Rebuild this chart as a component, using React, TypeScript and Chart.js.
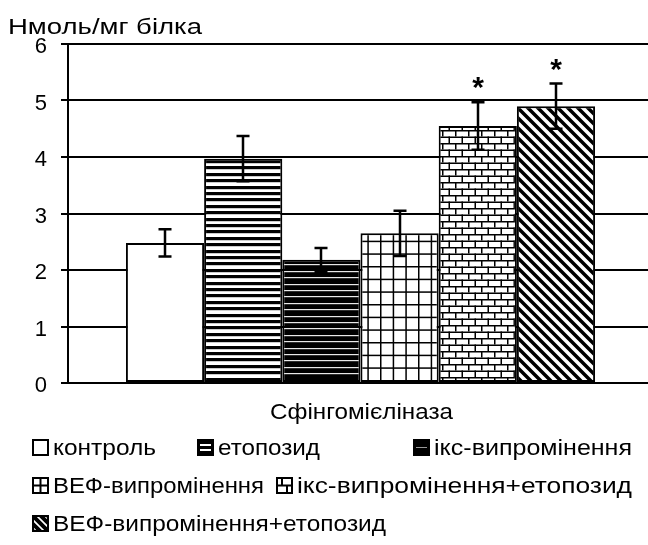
import React, { useEffect, useLayoutEffect, useRef } from 'react';
import { Chart, registerables } from 'chart.js';

Chart.register(...registerables);

// ---------- data ----------
const categories = ['Сфінгомієліназа'];
const seriesNames = [
  'контроль',
  'етопозид',
  'ікс-випромінення',
  'ВЕФ-випромінення',
  'ікс-випромінення+етопозид',
  'ВЕФ-випромінення+етопозид',
];
const meanValues = [2.48, 3.97, 2.18, 2.65, 4.55, 4.9];
const errorValues = [0.24, 0.4, 0.21, 0.4, 0.42, 0.4];
const significant = [false, false, false, false, true, true];
const yTickValues = [0, 1, 2, 3, 4, 5, 6];
const yAxisTitle = 'Нмоль/мг білка';
const xAxisTitle = 'Сфінгомієліназа';
const seriesPatterns = ['white', 'hlines', 'dark', 'grid', 'brick', 'diag'];

// ---------- layout ----------
const FONT = '"Liberation Sans", Arial, sans-serif';
const TXT = 22;
const W = 648;
const H = 545;
const CANVAS_W = 653; // plot area runs slightly past the visible edge
const legendRows = [456, 494, 532];
const legendLayout = [
  { x: 32, row: 0, textRight: 156 },
  { x: 197, row: 0, textRight: 320 },
  { x: 413, row: 0, textRight: 632 },
  { x: 32, row: 1, textRight: 264 },
  { x: 276, row: 1, textRight: 632 },
  { x: 32, row: 2, textRight: 386 },
];
const SW = 17;

function makeTile(w: number, h: number, draw: (c: CanvasRenderingContext2D) => void) {
  const cv = document.createElement('canvas');
  cv.width = w;
  cv.height = h;
  const c = cv.getContext('2d')!;
  draw(c);
  return cv;
}

function makePattern(ctx: CanvasRenderingContext2D, kind: string): CanvasPattern | string {
  let tile: HTMLCanvasElement | null = null;
  if (kind === 'white') return '#ffffff';
  if (kind === 'hlines') {
    tile = makeTile(4, 32, (c) => {
      c.fillStyle = '#fff';
      c.fillRect(0, 0, 4, 32);
      c.fillStyle = '#000';
      [0, 6, 13, 19, 26].forEach((y) => c.fillRect(0, y, 4, 3.2));
    });
  } else if (kind === 'dark') {
    tile = makeTile(4, 32, (c) => {
      c.fillStyle = '#000';
      c.fillRect(0, 0, 4, 32);
      c.fillStyle = '#e8e8e8';
      [2, 8, 15, 21, 28].forEach((y) => c.fillRect(0, y, 4, 1.2));
    });
  } else if (kind === 'grid') {
    tile = makeTile(38, 38, (c) => {
      c.fillStyle = '#fff';
      c.fillRect(0, 0, 38, 38);
      c.fillStyle = '#000';
      [0, 12.67, 25.33].forEach((p) => {
        c.fillRect(p, 0, 1.5, 38);
        c.fillRect(0, p, 38, 1.5);
      });
    });
  } else if (kind === 'brick') {
    tile = makeTile(26, 13, (c) => {
      c.fillStyle = '#fff';
      c.fillRect(0, 0, 26, 13);
      c.fillStyle = '#000';
      c.fillRect(0, 0, 26, 1.5);
      c.fillRect(0, 6.5, 26, 1.5);
      c.fillRect(0, 0, 1.5, 6.5);
      c.fillRect(13, 0, 1.5, 6.5);
      c.fillRect(6.5, 6.5, 1.5, 6.5);
      c.fillRect(19.5, 6.5, 1.5, 6.5);
    });
  } else if (kind === 'diag') {
    tile = makeTile(10, 10, (c) => {
      c.fillStyle = '#fff';
      c.fillRect(0, 0, 10, 10);
      c.strokeStyle = '#000';
      c.lineWidth = 3.5;
      c.beginPath();
      c.moveTo(-2, -2); c.lineTo(12, 12);
      c.moveTo(-2, 8); c.lineTo(2, 12);
      c.moveTo(8, -2); c.lineTo(12, 2);
      c.stroke();
    });
  }
  return tile ? ctx.createPattern(tile, 'repeat')! : '#fff';
}

function drawSwatch(c: CanvasRenderingContext2D, kind: string) {
  const s = SW;
  c.clearRect(0, 0, s, s);
  const bg = kind === 'hlines' || kind === 'dark' ? '#000' : '#fff';
  c.fillStyle = bg;
  c.fillRect(0, 0, s, s);
  c.fillStyle = '#000';
  if (kind === 'hlines') {
    c.fillStyle = '#fff';
    c.fillRect(3, 5, s - 6, 2);
    c.fillRect(3, 10, s - 6, 2);
  } else if (kind === 'dark') {
    c.fillStyle = '#9a9a9a';
    c.fillRect(3, 8, s - 6, 1);
  } else if (kind === 'grid') {
    c.fillRect(7.5, 0, 2, s);
    c.fillRect(0, 7.5, s, 2);
  } else if (kind === 'brick') {
    c.fillRect(0, 7.5, s, 2);
    c.fillRect(5, 0, 2, 8);
    c.fillRect(10, 8, 2, 9);
  } else if (kind === 'diag') {
    c.save();
    c.beginPath();
    c.rect(0, 0, s, s);
    c.clip();
    c.strokeStyle = '#000';
    c.lineWidth = 4;
    c.beginPath();
    c.moveTo(-3, -3); c.lineTo(s + 3, s + 3);
    c.moveTo(-3, 5); c.lineTo(s - 5, s + 3);
    c.moveTo(5, -3); c.lineTo(s + 3, s - 5);
    c.moveTo(-3, 12); c.lineTo(3, 18);
    c.moveTo(12, -3); c.lineTo(18, 3);
    c.stroke();
    c.restore();
  }
  c.strokeStyle = '#000';
  c.lineWidth = 2;
  c.strokeRect(1, 1, s - 2, s - 2);
}

function FitText({ text, left, right, baseline, size }: { text: string; left: number; right: number; baseline: number; size: number }) {
  const ref = useRef<HTMLSpanElement>(null);
  useLayoutEffect(() => {
    const el = ref.current;
    if (!el) return;
    el.style.transform = 'none';
    const w = el.getBoundingClientRect().width;
    if (w > 0) el.style.transform = `scaleX(${(right - left) / w})`;
  });
  return (
    <span
      ref={ref}
      style={{
        position: 'absolute',
        left,
        top: baseline - 0.8465 * size,
        fontFamily: FONT,
        fontSize: size,
        lineHeight: `${size}px`,
        whiteSpace: 'nowrap',
        transformOrigin: '0 0',
        color: '#000',
      }}
    >
      {text}
    </span>
  );
}

function Swatch({ kind, x, y }: { kind: string; x: number; y: number }) {
  const ref = useRef<HTMLCanvasElement>(null);
  useEffect(() => {
    const c = ref.current?.getContext('2d');
    if (c) drawSwatch(c, kind);
  }, [kind]);
  return <canvas ref={ref} width={SW} height={SW} style={{ position: 'absolute', left: x, top: y, width: SW, height: SW }} />;
}

const errorBarPlugin = {
  id: 'errorBars',
  afterDatasetsDraw(chart: any) {
    const ctx: CanvasRenderingContext2D = chart.ctx;
    const yScale = chart.scales.y;
    ctx.save();
    ctx.strokeStyle = '#000';
    ctx.fillStyle = '#000';
    ctx.lineWidth = 2.5;
    chart.data.datasets.forEach((_ds: any, i: number) => {
      const meta = chart.getDatasetMeta(i);
      meta.data.forEach((bar: any) => {
        const x = Math.round(bar.x);
        const yTop = yScale.getPixelForValue(meanValues[i] + errorValues[i]);
        const yBot = yScale.getPixelForValue(meanValues[i] - errorValues[i]);
        ctx.beginPath();
        ctx.moveTo(x, yTop);
        ctx.lineTo(x, yBot);
        ctx.moveTo(x - 6.5, yTop);
        ctx.lineTo(x + 6.5, yTop);
        ctx.moveTo(x - 6.5, yBot);
        ctx.lineTo(x + 6.5, yBot);
        ctx.stroke();
        if (significant[i]) {
          ctx.font = `bold 30px ${FONT}`;
          ctx.textAlign = 'center';
          ctx.textBaseline = 'alphabetic';
          const cy = yTop - 23;
          ctx.fillText('*', x, cy + 0.6 * 30);
        }
      });
    });
    ctx.restore();
  },
};

export default function App() {
  const canvasRef = useRef<HTMLCanvasElement>(null);

  useEffect(() => {
    const canvas = canvasRef.current;
    if (!canvas) return;
    const ctx = canvas.getContext('2d')!;
    const chart = new Chart(ctx, {
      type: 'bar',
      data: {
        labels: categories,
        datasets: seriesNames.map((name, i) => ({
          label: name,
          data: [meanValues[i]],
          backgroundColor: makePattern(ctx, seriesPatterns[i]) as any,
          borderColor: '#000',
          borderWidth: 2,
          borderSkipped: false,
          categoryPercentage: 0.802,
          barPercentage: 1,
        })),
      },
      options: {
        responsive: false,
        animation: false,
        events: [],
        layout: { padding: { top: 44, left: 0, right: 0, bottom: 0 } },
        plugins: {
          legend: { display: false },
          title: { display: false },
          tooltip: { enabled: false },
        },
        scales: {
          x: {
            ticks: { display: false },
            grid: { display: false },
            border: { display: false },
            afterFit: (s: any) => {
              s.height = H - 383;
            },
          },
          y: {
            min: 0,
            max: 6,
            afterBuildTicks: (s: any) => {
              s.ticks = yTickValues.map((v) => ({ value: v }));
            },
            ticks: {
              color: '#000',
              font: { family: FONT, size: TXT },
              padding: 14,
              labelOffset: 3,
            },
            grid: { color: '#000', lineWidth: 2, tickLength: 7, drawTicks: true },
            border: { display: true, color: '#000', width: 2 },
            afterFit: (s: any) => {
              s.width = 68;
            },
          },
        },
      } as any,
      plugins: [errorBarPlugin],
    });
    return () => chart.destroy();
  }, []);

  return (
    <div style={{ position: 'absolute', left: 0, top: 0, width: W, height: H, background: '#fff', overflow: 'hidden' }}>
      <canvas
        ref={canvasRef}
        width={CANVAS_W}
        height={H}
        style={{ position: 'absolute', left: 0, top: 0, width: CANVAS_W, height: H }}
      />
      <FitText text={yAxisTitle} left={8} right={202} baseline={35} size={TXT} />
      <FitText text={xAxisTitle} left={270} right={453} baseline={420} size={TXT} />
      {seriesNames.map((name, i) => {
        const L = legendLayout[i];
        const base = legendRows[L.row];
        return (
          <React.Fragment key={name}>
            <Swatch kind={seriesPatterns[i]} x={L.x} y={base - SW} />
            <FitText text={name} left={L.x + SW + 4} right={L.textRight} baseline={base} size={TXT} />
          </React.Fragment>
        );
      })}
    </div>
  );
}
